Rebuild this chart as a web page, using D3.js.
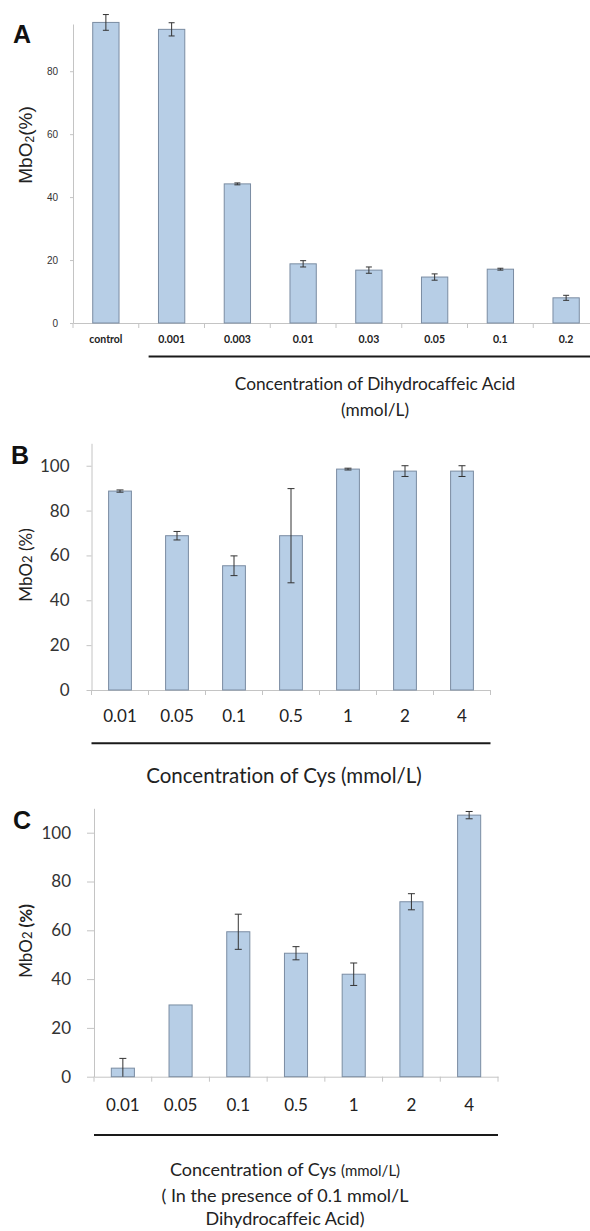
<!DOCTYPE html>
<html>
<head>
<meta charset="utf-8">
<script src="https://cdn.jsdelivr.net/npm/d3@7"></script>
<style>
  body { margin: 0; background: #fff; }
  svg { display: block; font-variant-ligatures: none; }
  text { font-variant-ligatures: none; font-feature-settings: "liga" 0; }
</style>
</head>
<body>
<svg id="chart" width="590" height="1231"></svg>
<script>
// Panel A: Dihydrocaffeic acid alone
const catsA = ["control", "0.001", "0.003", "0.01", "0.03", "0.05", "0.1", "0.2"];
const mbo2A = [95.5, 93.3, 44.2, 18.8, 16.8, 14.6, 17.1, 8.0];
const errA  = [2.5, 2.1, 0.3, 1.0, 1.0, 1.0, 0.3, 0.8];
const ticksA = [0, 20, 40, 60, 80];

// Panels B and C: Cys concentrations
const catsCys = ["0.01", "0.05", "0.1", "0.5", "1", "2", "4"];
const mbo2B = [88.7, 68.8, 55.4, 68.8, 98.5, 97.6, 97.6];
const errB  = [0.5, 1.9, 4.4, 21.0, 0.4, 2.4, 2.4];
const mbo2C = [3.5, 29.4, 59.4, 50.6, 42.0, 71.7, 107.2];
const errC  = [4.0, 0, 7.2, 2.7, 4.6, 3.3, 1.5];
const ticksBC = [0, 20, 40, 60, 80, 100];

const svg = d3.select("#chart");
const barFill = "#b7cee6", barStroke = "#7a8ca2", axisColor = "#c4c4c4";
const sans = "Lato, 'Open Sans', sans-serif";

function drawPanel(p) {
  const x = d3.scaleBand()
    .domain(p.cats)
    .range([p.left, p.right])
    .paddingInner(0.6)
    .paddingOuter(0.3);
  const y = d3.scaleLinear()
    .domain([0, p.yMax])
    .range([p.bottom, p.top]);
  const g = svg.append("g");

  // y axis
  const yAxis = g.append("g")
    .attr("transform", "translate(" + p.left + ",0)")
    .call(d3.axisLeft(y).tickValues(p.ticks).tickSize(p.tickLen).tickSizeOuter(0).tickPadding(p.tickPad));
  yAxis.select(".domain").attr("stroke", axisColor);
  yAxis.selectAll(".tick line").attr("stroke", axisColor);
  yAxis.selectAll(".tick text")
    .attr("font-family", p.tickFamily)
    .attr("font-size", p.tickFont)
    .attr("font-weight", p.tickWeight)
    .attr("fill", "#333");

  // x axis: labels under each bar, separators between categories
  const xAxis = g.append("g")
    .attr("transform", "translate(0," + p.bottom + ")")
    .call(d3.axisBottom(x).tickSize(0).tickSizeOuter(0).tickPadding(p.labelPad));
  xAxis.select(".domain").attr("stroke", axisColor);
  xAxis.selectAll(".tick text")
    .attr("font-family", p.labelFamily)
    .attr("font-size", p.labelFont)
    .attr("font-weight", p.labelWeight)
    .attr("fill", "#222");
  const gap = (x.step() - x.bandwidth()) / 2;
  const seps = p.cats.map(c => x(c) - gap).concat([x(p.cats[p.cats.length - 1]) + x.bandwidth() + gap]);
  g.append("g").selectAll("line")
    .data(seps)
    .enter()
    .append("line")
    .attr("x1", d => d).attr("x2", d => d)
    .attr("y1", p.bottom).attr("y2", p.bottom + 5)
    .attr("stroke", axisColor);

  // bars
  const rows = p.cats.map((c, i) => ({cat: c, v: p.vals[i], e: p.errs[i]}));
  g.append("g").selectAll("rect")
    .data(rows)
    .enter()
    .append("rect")
    .attr("x", d => x(d.cat))
    .attr("y", d => y(d.v))
    .attr("width", x.bandwidth())
    .attr("height", d => p.bottom - y(d.v))
    .attr("fill", barFill)
    .attr("stroke", barStroke)
    .attr("stroke-width", 1);

  // error bars
  const eb = g.append("g").selectAll("g")
    .data(rows.filter(d => d.e > 0))
    .enter()
    .append("g")
    .attr("stroke", "#333")
    .attr("stroke-width", 1);
  const cx = d => x(d.cat) + x.bandwidth() / 2;
  eb.append("line")
    .attr("x1", cx).attr("x2", cx)
    .attr("y1", d => y(d.v + d.e))
    .attr("y2", d => y(Math.max(0, d.v - d.e)));
  eb.append("line")
    .attr("x1", d => cx(d) - p.cap).attr("x2", d => cx(d) + p.cap)
    .attr("y1", d => y(d.v + d.e)).attr("y2", d => y(d.v + d.e));
  eb.filter(d => d.v - d.e > 0).append("line")
    .attr("x1", d => cx(d) - p.cap).attr("x2", d => cx(d) + p.cap)
    .attr("y1", d => y(d.v - d.e)).attr("y2", d => y(d.v - d.e));

  // black bracket line under the labels
  const lineStart = p.lineFrom ? x(p.lineFrom) - gap / 2 : p.left;
  g.append("line")
    .attr("x1", lineStart).attr("x2", p.right)
    .attr("y1", p.lineY).attr("y2", p.lineY)
    .attr("stroke", "#1a1a1a")
    .attr("stroke-width", 2);

  // panel letter
  g.append("text")
    .attr("x", p.letterX).attr("y", p.letterY)
    .attr("font-family", "'Liberation Sans', Arial, sans-serif")
    .attr("font-weight", "bold")
    .attr("font-size", 25)
    .attr("fill", "#111")
    .text(p.letter);

  return {g, x, y};
}

// ---- Panel A
const a = drawPanel({
  cats: catsA, vals: mbo2A, errs: errA, ticks: ticksA,
  left: 73, right: 599, top: 24, bottom: 323, yMax: 95,
  tickLen: 3, tickPad: 12, tickFamily: "'Liberation Sans', Arial, sans-serif", tickFont: 10, tickWeight: "normal",
  labelPad: 13, labelFamily: sans, labelFont: 10.5, labelWeight: "bold",
  cap: 3, lineFrom: "0.001", lineY: 356.5,
  letter: "A", letterX: 13, letterY: 43
});
const yLabA = a.g.append("text")
  .attr("transform", "translate(32,145) rotate(-90)")
  .attr("text-anchor", "middle")
  .attr("font-family", "'Liberation Sans', Arial, sans-serif")
  .attr("font-size", 19)
  .attr("fill", "#222");
yLabA.append("tspan").text("MbO");
yLabA.append("tspan").attr("font-size", 12).attr("dy", 2).text("2");
yLabA.append("tspan").attr("dy", -2).text("(%)");
a.g.append("text")
  .attr("x", 375).attr("y", 390)
  .attr("text-anchor", "middle")
  .attr("font-family", sans).attr("font-size", 17.3).attr("fill", "#222")
  .text("Concentration of Dihydrocaffeic Acid");
a.g.append("text")
  .attr("x", 375).attr("y", 416)
  .attr("text-anchor", "middle")
  .attr("font-family", sans).attr("font-size", 17.3).attr("fill", "#222")
  .text("(mmol/L)");

// ---- Panel B
const b = drawPanel({
  cats: catsCys, vals: mbo2B, errs: errB, ticks: ticksBC,
  left: 91.5, right: 490.5, top: 443.3, bottom: 690, yMax: 110,
  tickLen: 5, tickPad: 17, tickFamily: sans, tickFont: 17, tickWeight: "normal",
  labelPad: 20, labelFamily: sans, labelFont: 17, labelWeight: "normal",
  cap: 3.5, lineFrom: null, lineY: 743.3,
  letter: "B", letterX: 11, letterY: 464
});
const yLabB = b.g.append("text")
  .attr("transform", "translate(32,565) rotate(-90)")
  .attr("text-anchor", "middle")
  .attr("font-family", sans).attr("font-size", 17).attr("fill", "#222");
yLabB.append("tspan").text("MbO");
yLabB.append("tspan").attr("font-size", 13).text("2");
yLabB.append("tspan").text(" (%)");
b.g.append("text")
  .attr("x", 284).attr("y", 783)
  .attr("text-anchor", "middle")
  .attr("font-family", sans).attr("font-size", 20.5).attr("fill", "#222")
  .text("Concentration of Cys (mmol/L)");

// ---- Panel C
const c = drawPanel({
  cats: catsCys, vals: mbo2C, errs: errC, ticks: ticksBC,
  left: 94, right: 498, top: 808.3, bottom: 1076.7, yMax: 110,
  tickLen: 7, tickPad: 16, tickFamily: sans, tickFont: 17, tickWeight: "normal",
  labelPad: 22, labelFamily: sans, labelFont: 17, labelWeight: "normal",
  cap: 3.5, lineFrom: null, lineY: 1135,
  letter: "C", letterX: 13, letterY: 828.5
});
const yLabC = c.g.append("text")
  .attr("transform", "translate(32,941) rotate(-90)")
  .attr("text-anchor", "middle")
  .attr("font-family", sans).attr("font-size", 17).attr("fill", "#222");
yLabC.append("tspan").text("MbO");
yLabC.append("tspan").attr("font-size", 13).text("2");
yLabC.append("tspan").attr("font-weight", "bold").text(" (%)");
const titleC = c.g.append("text")
  .attr("text-anchor", "middle")
  .attr("font-family", sans).attr("font-size", 18).attr("fill", "#222");
const l1 = titleC.append("tspan").attr("x", 285).attr("y", 1176);
l1.append("tspan").text("Concentration of Cys ");
l1.append("tspan").attr("font-size", 15).text("(mmol/L)");
titleC.append("tspan").attr("x", 285).attr("y", 1202).text("( In the presence of 0.1 mmol/L");
titleC.append("tspan").attr("x", 285).attr("y", 1225).text("Dihydrocaffeic Acid)");
</script>
</body>
</html>
